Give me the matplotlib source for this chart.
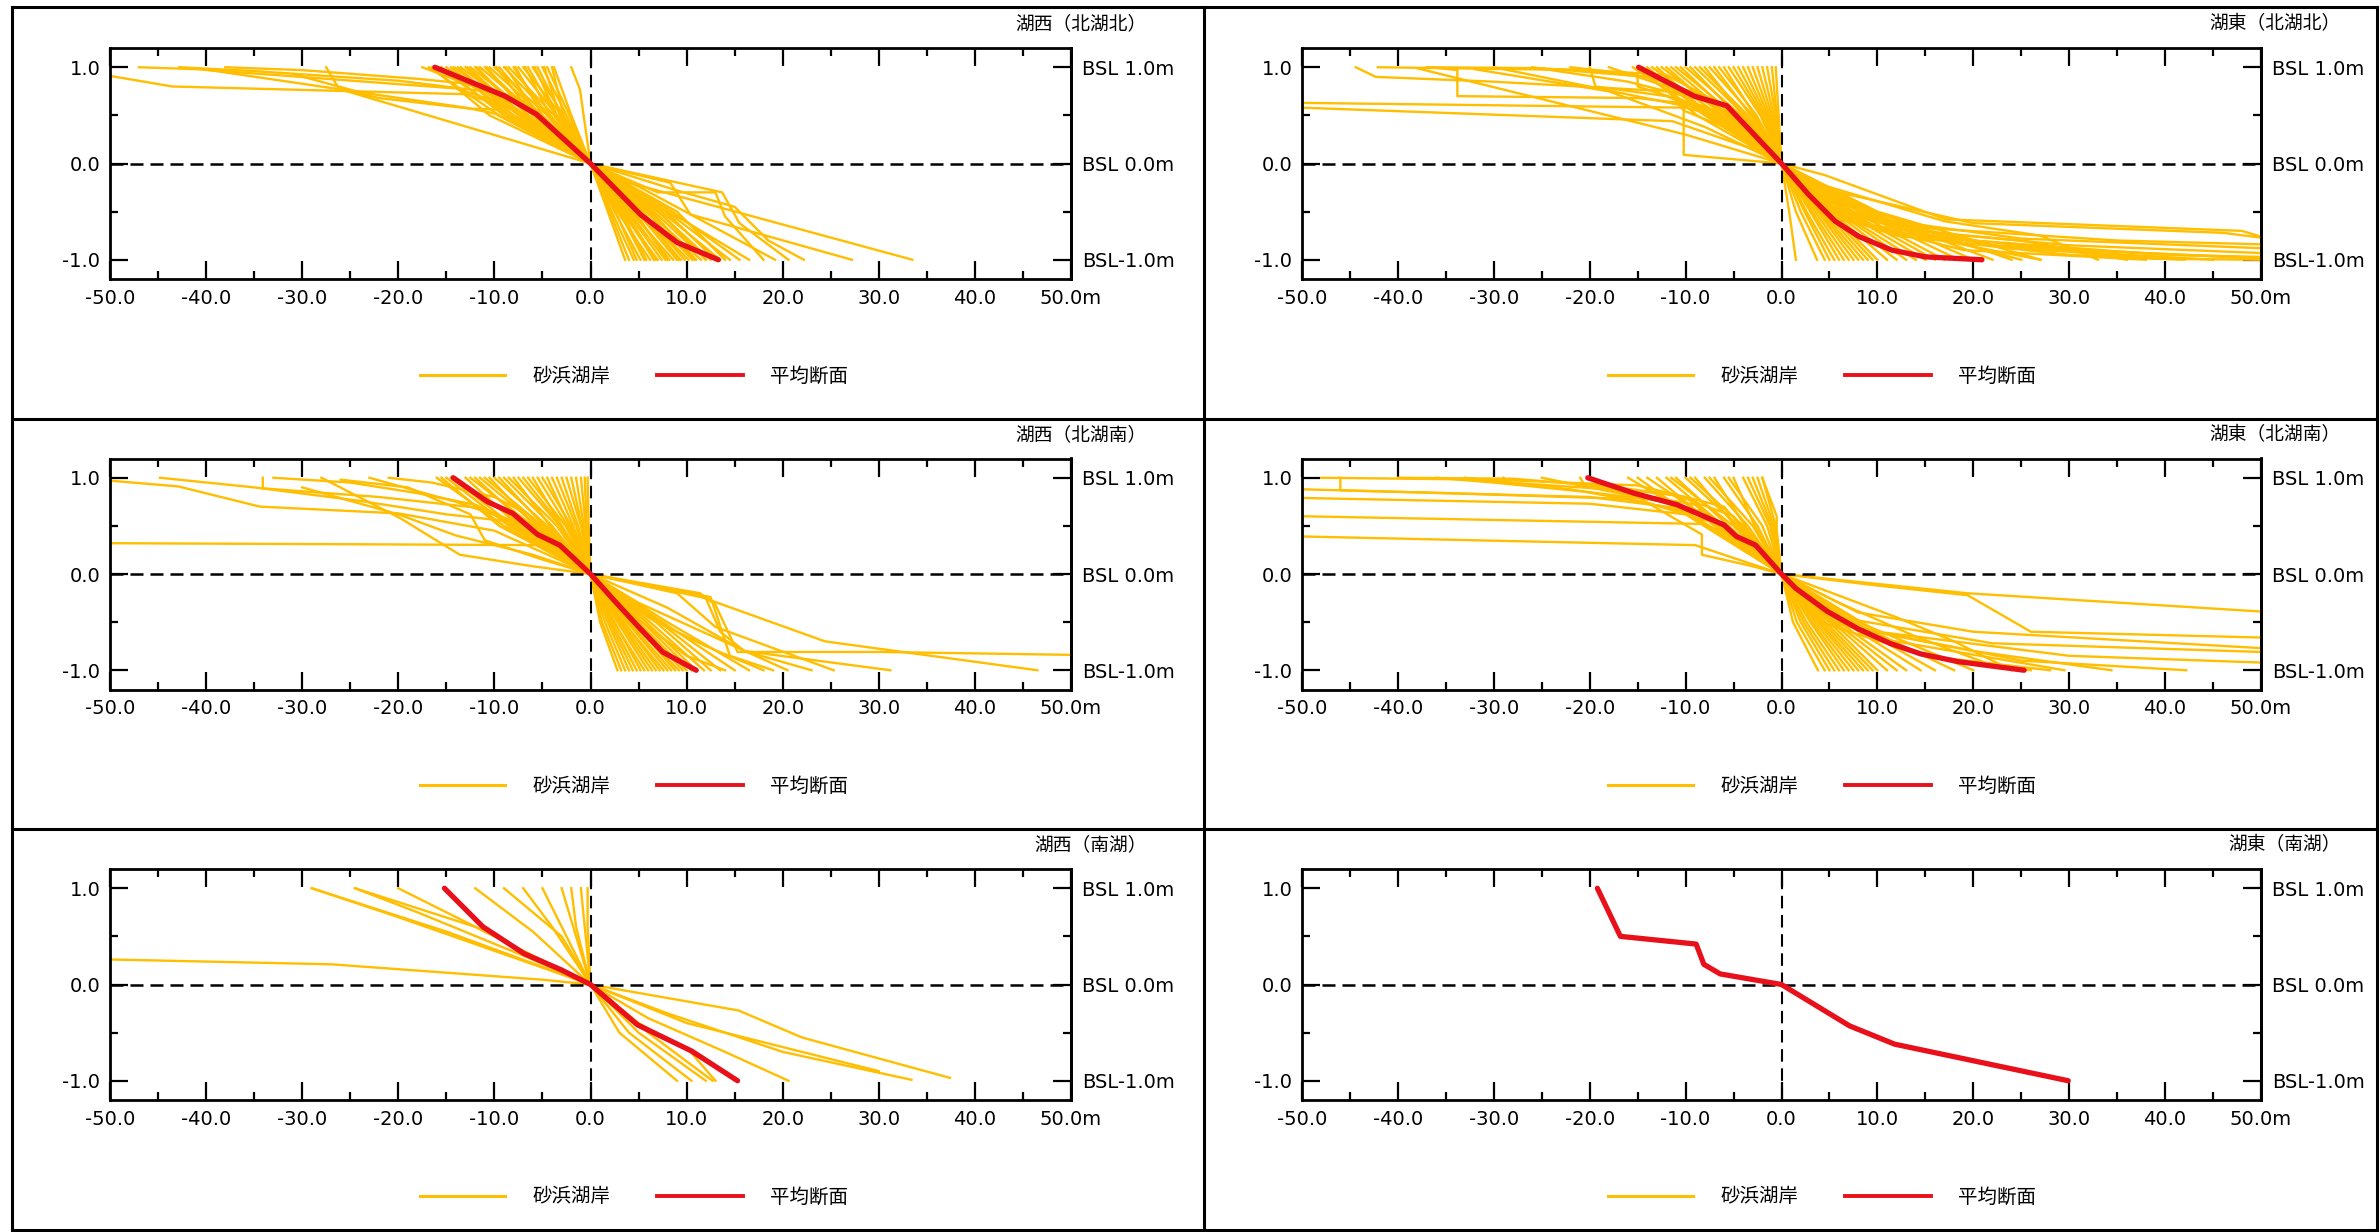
import matplotlib
matplotlib.use("Agg")
import matplotlib.pyplot as plt
from matplotlib.lines import Line2D
from matplotlib.ticker import FixedLocator, FixedFormatter, MultipleLocator

W, H = 2380, 1232
YELLOW = "#FFBE00"
RED = "#E8101A"
CJK = ["Noto Sans CJK JP", "DejaVu Sans"]
TICK_FONT = "DejaVu Sans"

# ---------------------------------------------------------------------------
# Profile data.  Every profile is normalised so it passes through (0, 0):
#   *_UP_FAN : (x at BSL 1.0m, x at BSL 0.5m)
#   *_LO_FAN : (x at BSL -0.5m, x at BSL -1.0m)
#   *_UP / *_LO : explicit vertices (x, z), the origin is added when drawn
#   *_MEAN : averaged section
# ---------------------------------------------------------------------------

# 湖西（北湖北）
WNN_UP_FAN = [(-16.8, -9.5), (-16.5, -10.5), (-16.0, -8.5), (-15.5, -9.0), (-15.0, -8.0),
              (-14.5, -8.5), (-14.2, -7.2), (-13.8, -8.0), (-13.5, -6.8), (-13.0, -7.5),
              (-12.8, -7.0), (-12.5, -6.0), (-12.0, -6.5), (-11.8, -7.2), (-11.5, -5.5),
              (-11.0, -5.8), (-10.8, -6.5), (-10.5, -5.0), (-10.0, -4.5), (-9.8, -6.0),
              (-9.5, -5.2), (-9.0, -4.2), (-8.8, -5.5), (-8.5, -3.8), (-8.0, -4.5),
              (-7.8, -5.0), (-7.5, -3.5), (-7.0, -3.0), (-6.8, -4.2), (-6.5, -3.6),
              (-6.0, -2.8), (-5.8, -3.5), (-5.5, -3.0), (-5.0, -2.5), (-4.8, -3.2),
              (-4.5, -2.2), (-4.0, -2.8), (-3.8, -2.0)]
WNN_UP = [[(-47.0, 1.0), (-41.0, 0.98), (-14.0, 0.78), (-9.0, 0.62)],
          [(-50.0, 0.91), (-43.5, 0.80), (-13.0, 0.72), (-8.5, 0.58)],
          [(-42.8, 1.0), (-35.0, 0.96), (-20.0, 0.86), (-11.0, 0.75)],
          [(-27.5, 1.0), (-26.2, 0.78), (-22.0, 0.68), (-12.5, 0.57), (-9.5, 0.56)],
          [(-41.0, 0.99), (-26.0, 0.77)],
          [(-31.0, 0.93), (-24.0, 0.74), (-13.0, 0.58), (-10.0, 0.52)],
          [(-17.5, 1.0), (-13.5, 0.85), (-11.0, 0.75)],
          [(-2.0, 1.0), (-1.1, 0.77)],
          [(-38.0, 1.0), (-30.0, 0.97), (-18.0, 0.88), (-12.0, 0.82), (-7.0, 0.65)]]
WNN_LO_FAN = [(1.8, 3.6), (2.0, 4.0), (2.2, 4.5), (2.6, 4.8), (2.5, 5.2), (3.0, 5.6),
              (3.2, 5.8), (2.8, 6.2), (3.4, 6.6), (3.6, 6.8), (3.2, 7.0), (3.8, 7.4),
              (4.0, 7.8), (4.6, 8.0), (4.4, 8.2), (4.2, 8.6), (4.8, 9.0), (5.5, 9.2),
              (5.0, 9.4), (5.4, 9.8), (5.2, 10.2), (5.8, 10.6), (6.4, 10.8), (6.2, 11.0),
              (6.0, 11.5), (6.6, 12.0), (7.2, 12.0), (7.0, 12.5), (7.8, 13.0),
              (7.4, 13.5), (9.0, 14.0), (8.0, 14.5), (8.5, 15.5)]
WNN_LO = [[(4.0, -0.20), (33.5, -1.0)],
          [(8.3, -0.20), (10.4, -0.53), (27.2, -1.0)],
          [(13.7, -0.30), (15.5, -0.62), (20.6, -1.0)],
          [(9.0, -0.28), (15.0, -0.45), (18.5, -0.80), (22.2, -1.0)],
          [(5.2, -0.25), (19.2, -1.0)],
          [(7.0, -0.30), (13.0, -0.30), (14.0, -0.55), (18.0, -1.0)],
          [(3.0, -0.25), (9.0, -0.55), (16.5, -1.0)]]
WNN_MEAN = [(-16.2, 1.0), (-8.9, 0.70), (-5.6, 0.51), (0.0, 0.0),
            (5.2, -0.53), (9.0, -0.82), (13.3, -1.0)]

# 湖西（北湖南）
WNS_UP_FAN = [(-16.0, -9.0), (-15.5, -9.5), (-15.0, -8.5), (-14.5, -8.0), (-14.0, -7.0),
              (-13.0, -7.5), (-12.5, -6.0), (-12.0, -6.5), (-11.5, -5.5), (-11.0, -5.0),
              (-10.5, -5.8), (-10.0, -4.5), (-9.5, -4.8), (-9.0, -4.0), (-8.5, -3.5),
              (-8.0, -4.2), (-7.5, -3.2), (-7.0, -3.0), (-6.5, -2.6), (-6.0, -3.0),
              (-5.5, -2.4), (-5.0, -2.0), (-4.5, -2.2), (-4.0, -1.8), (-3.5, -1.5),
              (-3.0, -1.3), (-2.5, -1.0), (-2.0, -0.9), (-1.5, -0.7), (-1.0, -0.5),
              (-0.6, -0.4), (-0.3, -0.2)]
WNS_UP = [[(-50.0, 0.97), (-42.9, 0.91), (-34.4, 0.70), (-20.0, 0.63), (-10.0, 0.45)],
          [(-44.8, 1.0), (-35.0, 0.90), (-24.0, 0.76), (-15.0, 0.62), (-8.8, 0.55)],
          [(-50.0, 0.32), (-26.6, 0.31), (-5.5, 0.30)],
          [(-34.1, 1.0), (-34.1, 0.89), (-22.0, 0.80), (-11.0, 0.68)],
          [(-28.0, 1.0), (-19.8, 0.58), (-13.6, 0.20), (-6.0, 0.08)],
          [(-33.0, 1.0), (-25.0, 0.95), (-18.0, 0.84), (-12.0, 0.72), (-7.0, 0.50)],
          [(-23.0, 1.0), (-18.0, 0.86), (-14.0, 0.75), (-9.0, 0.58)],
          [(-26.0, 0.98), (-19.0, 0.90), (-12.5, 0.62), (-11.0, 0.35), (-5.0, 0.15)],
          [(-21.0, 1.0), (-16.5, 0.95), (-10.0, 0.80), (-6.5, 0.62)],
          [(-30.0, 0.90), (-20.0, 0.62), (-14.0, 0.40), (-6.0, 0.20)]]
WNS_LO_FAN = [(1.0, 2.8), (1.2, 3.2), (1.5, 3.6), (1.8, 4.0), (2.0, 4.4), (2.2, 4.8),
              (2.5, 5.2), (2.4, 5.6), (2.8, 6.0), (3.0, 6.4), (3.2, 6.8), (3.5, 7.2),
              (3.4, 7.6), (3.8, 8.0), (4.0, 8.4), (4.4, 8.8), (4.2, 9.2), (4.8, 9.6),
              (5.0, 10.0), (5.4, 10.5), (5.8, 11.0), (6.2, 11.8), (6.8, 12.5),
              (7.2, 13.5), (7.5, 15.0), (8.0, 16.5)]
WNS_LO = [[(11.0, -0.22), (24.4, -0.70), (46.5, -1.0)],
          [(11.4, -0.20), (13.0, -0.32), (15.3, -0.81), (30.2, -0.81), (50.0, -0.84)],
          [(12.0, -0.25), (13.5, -0.60), (16.0, -0.80), (31.2, -1.0)],
          [(9.0, -0.20), (13.0, -0.55), (25.3, -1.0)],
          [(5.0, -0.30), (20.5, -1.0)],
          [(8.0, -0.35), (16.0, -0.80), (23.0, -1.0)],
          [(12.5, -0.24), (13.2, -0.45), (14.5, -0.85), (19.0, -1.0)],
          [(6.0, -0.45), (12.0, -0.75), (18.0, -1.0)],
          [(4.0, -0.40), (10.0, -0.85), (14.0, -1.0)]]
WNS_MEAN = [(-14.3, 1.0), (-10.7, 0.75), (-8.1, 0.63), (-5.5, 0.41), (-3.2, 0.30), (0.0, 0.0),
            (2.6, -0.29), (5.2, -0.57), (7.5, -0.81), (11.0, -1.0)]

# 湖西（南湖）
WS_UP_FAN = [(-9.0, -3.0), (-5.0, -2.5), (-3.0, -1.5), (-1.0, -0.5)]
WS_UP = [[(-50.0, 0.26), (-27.0, 0.21), (-5.0, 0.05)],
         [(-29.0, 1.0), (-20.0, 0.70), (-10.0, 0.35)],
         [(-29.0, 1.0), (-15.0, 0.55)],
         [(-24.5, 1.0), (-18.0, 0.75), (-7.0, 0.30)],
         [(-24.5, 1.0), (-12.0, 0.60)],
         [(-20.0, 1.0), (-10.0, 0.50)],
         [(-12.0, 1.0), (-6.0, 0.55)],
         [(-7.0, 1.0), (-4.0, 0.60)],
         [(-2.0, 1.0), (-1.5, 0.60)],
         [(-0.3, 1.0), (-0.3, 0.60)]]
WS_LO_FAN = [(3.0, 9.0), (4.0, 10.5), (5.0, 12.0), (6.0, 12.7)]
WS_LO = [[(15.4, -0.27), (22.0, -0.55), (37.4, -0.97)],
         [(8.0, -0.30), (20.0, -0.70), (33.4, -0.99)],
         [(6.0, -0.35), (14.0, -0.70), (20.6, -1.0)],
         [(10.0, -0.40), (30.0, -0.90)],
         [(5.0, -0.40), (10.4, -0.70), (13.0, -1.0)]]
WS_MEAN = [(-15.2, 1.0), (-11.2, 0.60), (-6.9, 0.32), (-3.0, 0.15), (0.0, 0.0),
           (4.9, -0.42), (10.5, -0.69), (15.3, -1.0)]

# 湖東（北湖北）
ENN_UP_FAN = [(-15.5, -8.0), (-15.0, -8.8), (-14.5, -7.0), (-14.0, -7.8), (-13.5, -6.5),
              (-13.0, -7.5), (-12.5, -5.8), (-12.0, -6.2), (-11.5, -5.5), (-11.0, -4.8),
              (-10.5, -5.2), (-10.0, -4.2), (-9.5, -4.6), (-9.0, -3.8), (-8.5, -3.5),
              (-8.0, -4.0), (-7.5, -3.0), (-7.0, -3.2), (-6.5, -2.6), (-6.0, -2.8),
              (-5.5, -2.2), (-5.0, -2.0), (-4.5, -1.8), (-4.0, -1.6), (-3.5, -1.4),
              (-3.0, -1.2), (-2.5, -1.0), (-2.0, -0.8), (-1.5, -0.6), (-1.0, -0.5),
              (-0.6, -0.3)]
ENN_UP = [[(-44.4, 1.0), (-42.3, 0.90), (-30.0, 0.85), (-10.0, 0.74), (-5.0, 0.50)],
          [(-42.1, 1.0), (-20.0, 0.97), (-12.0, 0.92), (-6.0, 0.60)],
          [(-37.0, 1.0), (-25.0, 0.99), (-14.0, 0.90), (-8.0, 0.70)],
          [(-50.0, 0.63), (-10.0, 0.58), (-5.0, 0.45)],
          [(-50.0, 0.58), (-11.4, 0.44), (-3.0, 0.15)],
          [(-36.5, 1.0), (-33.8, 0.97), (-33.8, 0.70), (-15.0, 0.68), (-8.0, 0.60)],
          [(-30.0, 1.0), (-10.2, 0.60), (-10.2, 0.09)],
          [(-38.0, 0.99), (-10.0, 0.30)],
          [(-20.0, 1.0), (-19.4, 0.80), (-12.0, 0.70), (-6.0, 0.45)],
          [(-26.0, 1.0), (-16.0, 0.85), (-10.0, 0.70)],
          [(-32.0, 0.98), (-18.0, 0.75), (-8.0, 0.38)],
          [(-22.0, 1.0), (-15.0, 0.92), (-15.0, 0.80), (-7.0, 0.55)],
          [(-18.0, 1.0), (-12.0, 0.80), (-10.2, 0.55), (-4.0, 0.30)],
          [(-28.0, 0.99), (-20.0, 0.97), (-13.0, 0.88)]]
ENN_LO_FAN = [(0.8, 1.5), (1.5, 3.7), (2.0, 4.5), (2.4, 5.0), (2.6, 5.5), (3.0, 6.0),
              (3.2, 6.5), (3.5, 7.0), (3.8, 7.5), (4.0, 8.0), (4.2, 8.5), (4.5, 9.0),
              (4.8, 9.5), (5.0, 10.0), (5.2, 11.0), (5.5, 12.0), (5.8, 13.0), (6.0, 14.0),
              (6.5, 15.0), (7.0, 16.0), (7.5, 17.0), (8.0, 18.5), (8.5, 20.0), (9.0, 22.0),
              (9.5, 24.0), (6.5, 25.0), (10.0, 27.0)]
ENN_LO = [[(4.5, -0.12), (17.1, -0.58), (48.0, -0.70), (50.0, -0.76)],
          [(6.0, -0.30), (20.0, -0.62), (46.0, -0.72), (50.0, -0.77)],
          [(5.0, -0.35), (15.0, -0.67), (35.0, -0.80), (50.0, -0.84)],
          [(8.0, -0.55), (25.0, -0.78), (50.0, -0.88)],
          [(6.0, -0.50), (20.0, -0.80), (40.0, -0.95), (50.0, -0.97)],
          [(4.0, -0.45), (18.0, -0.82), (39.0, -0.99), (50.0, -1.0)],
          [(10.0, -0.70), (30.0, -0.90), (50.0, -0.98)],
          [(7.0, -0.60), (24.0, -0.88), (45.0, -1.0)],
          [(3.0, -0.40), (12.0, -0.75), (30.0, -0.95), (42.0, -1.0)],
          [(5.0, -0.45), (16.0, -0.72), (25.0, -0.80), (36.0, -1.0)],
          [(3.5, -0.20), (17.0, -0.60), (27.0, -0.75), (33.0, -1.0)],
          [(9.0, -0.65), (27.0, -1.0)],
          [(6.0, -0.40), (14.0, -0.70), (30.0, -0.85), (50.0, -0.93)],
          [(7.0, -0.50), (22.0, -0.85), (50.0, -0.99)],
          [(5.0, -0.55), (19.0, -0.90), (38.0, -1.0)]]
ENN_MEAN = [(-14.9, 1.0), (-9.1, 0.70), (-5.7, 0.60), (0.0, 0.0), (2.8, -0.32),
            (5.6, -0.60), (8.1, -0.76), (11.5, -0.90), (15.0, -0.97), (20.9, -1.0)]

# 湖東（北湖南）
ENS_UP_FAN = [(-16.0, -7.5), (-15.0, -8.0), (-14.0, -6.5), (-13.0, -7.0), (-12.0, -6.0),
              (-11.5, -5.0), (-11.0, -5.5), (-10.0, -4.5), (-9.5, -4.0), (-9.0, -4.8),
              (-8.0, -3.5), (-7.5, -3.0), (-7.0, -3.8), (-6.0, -2.5), (-5.5, -2.0),
              (-5.0, -2.8), (-4.0, -1.5), (-3.5, -1.2), (-3.0, -1.0), (-2.5, -0.8),
              (-2.0, -0.6)]
ENS_UP = [[(-48.0, 1.0), (-30.0, 0.98), (-15.0, 0.92), (-6.0, 0.70)],
          [(-46.0, 1.0), (-46.0, 0.87), (-20.0, 0.80), (-8.0, 0.65)],
          [(-50.0, 0.88), (-35.0, 0.84), (-16.0, 0.78), (-8.0, 0.60)],
          [(-50.0, 0.79), (-20.0, 0.73), (-10.0, 0.62)],
          [(-50.0, 0.60), (-8.3, 0.52), (-4.0, 0.35)],
          [(-50.0, 0.39), (-9.0, 0.30), (-3.0, 0.10)],
          [(-25.0, 1.0), (-15.0, 0.80), (-8.3, 0.41), (-8.3, 0.20), (-3.0, 0.08)],
          [(-36.0, 1.0), (-30.0, 0.95), (-20.0, 0.85), (-12.0, 0.75)],
          [(-40.0, 1.0), (-28.0, 0.99), (-17.0, 0.90), (-10.0, 0.80)],
          [(-29.0, 1.0), (-28.5, 0.95), (-18.0, 0.88), (-9.0, 0.72)],
          [(-33.0, 1.0), (-22.0, 0.88), (-14.0, 0.74), (-6.0, 0.50)],
          [(-2.0, 1.0), (-0.5, 0.60), (-0.5, 0.45)],
          [(-21.0, 1.0), (-20.5, 0.92), (-11.0, 0.82), (-5.0, 0.60)]]
ENS_LO_FAN = [(1.2, 3.8), (1.6, 4.5), (2.0, 5.0), (2.3, 5.5), (2.6, 6.0), (3.0, 6.5),
              (3.2, 7.0), (3.5, 7.5), (3.8, 8.0), (4.0, 8.5), (4.3, 9.0), (4.6, 9.5),
              (5.0, 10.0), (5.3, 11.0), (5.6, 12.0), (6.0, 13.0), (6.5, 14.5),
              (7.0, 16.0), (7.5, 18.0), (8.0, 20.0)]
ENS_LO = [[(19.4, -0.20), (50.0, -0.39)],
          [(10.0, -0.12), (19.4, -0.22), (26.0, -0.60), (50.0, -0.66)],
          [(8.0, -0.40), (20.0, -0.60), (50.0, -0.77)],
          [(6.0, -0.45), (22.0, -0.72), (50.0, -0.81)],
          [(10.0, -0.60), (30.0, -0.85), (50.0, -0.92)],
          [(5.0, -0.50), (25.0, -0.90), (42.2, -1.0)],
          [(7.0, -0.55), (20.0, -0.80), (34.4, -1.0)],
          [(9.0, -0.65), (29.5, -1.0)],
          [(4.0, -0.50), (15.0, -0.85), (28.0, -1.0)],
          [(12.0, -0.45), (18.0, -0.70), (24.0, -1.0)],
          [(6.0, -0.30), (14.0, -0.65), (22.0, -0.95), (26.0, -1.0)]]
ENS_MEAN = [(-20.2, 1.0), (-15.4, 0.84), (-10.9, 0.72), (-6.0, 0.51), (-4.7, 0.39),
            (-2.7, 0.30), (0.0, 0.0), (1.5, -0.15), (4.8, -0.39), (8.0, -0.57),
            (11.3, -0.72), (14.5, -0.83), (18.4, -0.91), (25.3, -1.0)]

# 湖東（南湖） - only the averaged section
ES_MEAN = [(-19.2, 1.0), (-16.8, 0.50), (-8.9, 0.42), (-8.1, 0.21), (-6.4, 0.11),
           (0.0, 0.0), (7.1, -0.43), (11.8, -0.62), (29.9, -1.0)]

X_TICKS = [-50, -40, -30, -20, -10, 0, 10, 20, 30, 40, 50]
X_LABELS = ["-50.0", "-40.0", "-30.0", "-20.0", "-10.0", "0.0",
            "10.0", "20.0", "30.0", "40.0", "50.0m"]
Z_TICKS = [-1.0, 0.0, 1.0]
Z_LABELS_L = ["-1.0", "0.0", "1.0"]
Z_LABELS_R = ["BSL-1.0m", "BSL 0.0m", "BSL 1.0m"]
LEGEND_LABELS = ["砂浜湖岸", "平均断面"]

PANELS = [
    ("湖西（北湖北）", WNN_UP_FAN, WNN_UP, WNN_LO_FAN, WNN_LO, WNN_MEAN),
    ("湖東（北湖北）", ENN_UP_FAN, ENN_UP, ENN_LO_FAN, ENN_LO, ENN_MEAN),
    ("湖西（北湖南）", WNS_UP_FAN, WNS_UP, WNS_LO_FAN, WNS_LO, WNS_MEAN),
    ("湖東（北湖南）", ENS_UP_FAN, ENS_UP, ENS_LO_FAN, ENS_LO, ENS_MEAN),
    ("湖西（南湖）", WS_UP_FAN, WS_UP, WS_LO_FAN, WS_LO, WS_MEAN),
    ("湖東（南湖）", [], [], [], [], ES_MEAN),
]


def fig_box(left, top, right, bottom):
    return [left / W, 1 - bottom / H, (right - left) / W, (bottom - top) / H]


def profile_paths(up_fan, up, lo_fan, lo):
    paths = []
    for x1, x05 in up_fan:
        paths.append([(x1, 1.0), (x05, 0.5), (0.0, 0.0)])
    for verts in up:
        paths.append(list(verts) + [(0.0, 0.0)])
    for x05, x1 in lo_fan:
        paths.append([(0.0, 0.0), (x05, -0.5), (x1, -1.0)])
    for verts in lo:
        paths.append([(0.0, 0.0)] + list(verts))
    return paths


fig = plt.figure(figsize=(W / 100, H / 100), dpi=100)

# panel frames
frame_kw = dict(color="black", lw=2.2, transform=fig.transFigure)
for xs, ys in [([12, 2377], [7, 7]), ([12, 2377], [1230, 1230]),
               ([12, 12], [7, 1230]), ([2377, 2377], [7, 1230]),
               ([1204, 1204], [7, 1230]),
               ([12, 2377], [419, 419]), ([12, 2377], [829, 829])]:
    fig.add_artist(Line2D([x / W for x in xs], [1 - y / H for y in ys], **frame_kw))

col_x = [(110, 1071), (1302, 2261)]
col_title_x = [1147, 2341]
col_legend_x = [634, 1822]
row_dy = 410.5

for i, (title, up_fan, up, lo_fan, lo, mean) in enumerate(PANELS):
    row, col = divmod(i, 2)
    x0, x1 = col_x[col]
    dy = row * row_dy
    ax = fig.add_axes(fig_box(x0, 48 + dy, x1, 279 + dy))

    for path in profile_paths(up_fan, up, lo_fan, lo):
        xs, zs = zip(*path)
        ax.plot(xs, zs, color=YELLOW, lw=1.7, zorder=2, solid_joinstyle="round")
    mx, mz = zip(*mean)
    ax.plot(mx, mz, color=RED, lw=3.8, zorder=4, solid_capstyle="round")

    ax.axhline(0, color="black", lw=1.8, dashes=(5.2, 2.8), zorder=3)
    ax.axvline(0, color="black", lw=1.5, dashes=(6.0, 3.2), zorder=3)

    ax.set_xlim(-50, 50)
    ax.set_ylim(-1.2, 1.2)
    for sp in ax.spines.values():
        sp.set_linewidth(2.0)

    ax.xaxis.set_major_locator(FixedLocator(X_TICKS))
    ax.xaxis.set_major_formatter(FixedFormatter(X_LABELS))
    ax.xaxis.set_minor_locator(MultipleLocator(5))
    ax.yaxis.set_major_locator(FixedLocator(Z_TICKS))
    ax.yaxis.set_major_formatter(FixedFormatter(Z_LABELS_L))
    ax.yaxis.set_minor_locator(MultipleLocator(0.5))
    ax.tick_params(which="both", direction="in", top=True, right=True, width=1.6)
    ax.tick_params(which="major", length=13)
    ax.tick_params(which="minor", length=6)
    ax.tick_params(axis="both", which="major", pad=7, labelsize=14)
    for lab in ax.get_xticklabels() + ax.get_yticklabels():
        lab.set_family(TICK_FONT)

    sec = ax.secondary_yaxis("right")
    sec.set_yticks(Z_TICKS, labels=Z_LABELS_R)
    sec.tick_params(length=0, pad=8, labelsize=14)
    sec.spines["right"].set_linewidth(2.0)
    for lab in sec.get_yticklabels():
        lab.set_family(TICK_FONT)

    fig.text(col_title_x[col] / W, 1 - (24 + dy) / H, title, ha="right", va="center",
             fontsize=13.5, family=CJK)

    handles = [Line2D([], [], color=YELLOW, lw=2.2), Line2D([], [], color=RED, lw=2.8)]
    fig.legend(handles, LEGEND_LABELS, loc="center",
               bbox_to_anchor=(col_legend_x[col] / W, 1 - (376 + dy) / H),
               ncol=2, frameon=False, prop={"family": CJK, "size": 14},
               handlelength=4.4, handletextpad=1.4, columnspacing=2.4)

fig.savefig("out.png", dpi=100)
